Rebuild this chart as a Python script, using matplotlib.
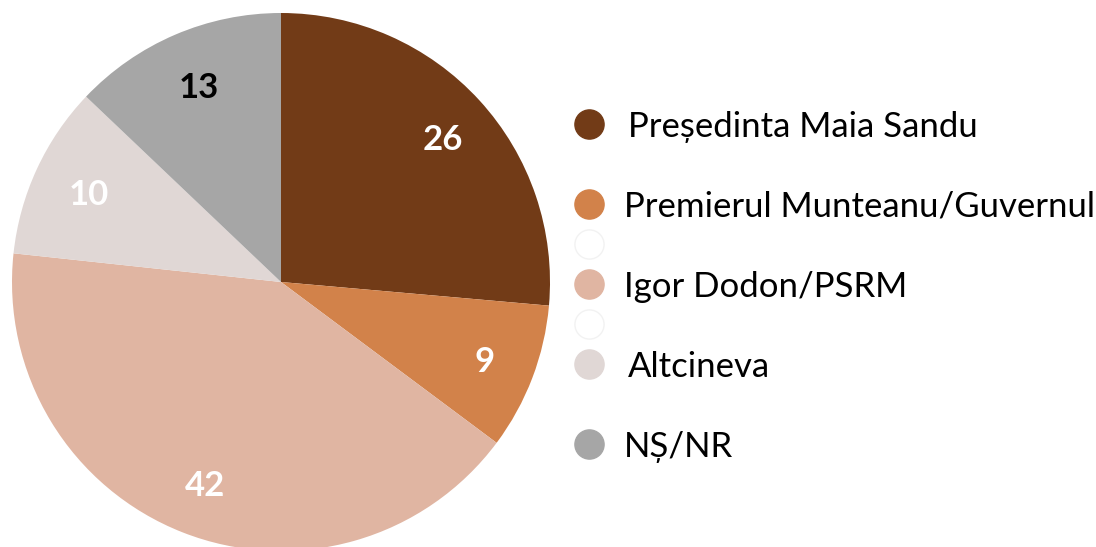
import matplotlib.pyplot as plt

plt.rcParams['font.family'] = ['Lato', 'DejaVu Sans']

# pie data (clockwise from 12 o'clock); shares read from the wedge edges,
# labels as printed on the chart
shares = [26.4, 8.8, 41.5, 10.4, 12.9]
value_labels = ['26', '9', '42', '10', '13']
colors = ['#723B17', '#D2824A', '#E0B5A2', '#E0D7D5', '#A6A6A6']
label_colors = ['white', 'white', 'white', 'white', 'black']

# legend rows as shown (None = empty spacer row)
legend_labels = ['Președinta Maia Sandu', None, 'Premierul Munteanu/Guvernul', '',
                 'Igor Dodon/PSRM', '', 'Altcineva', None, 'NȘ/NR']
legend_colors = ['#723B17', None, '#D2824A', 'white',
                 '#E0B5A2', 'white', '#E0D7D5', None, '#A6A6A6']
legend_text_x = [628, 0, 624, 0, 624, 0, 628, 0, 624]

W, H = 1096, 547
fig = plt.figure(figsize=(W / 100, H / 100), dpi=100)

# pie axes: centre (281, 282) px, radius 269 px
cx, cy, r = 281, 282, 269
ax = fig.add_axes([(cx - r) / W, (H - cy - r) / H, 2 * r / W, 2 * r / H])
wedges, texts = ax.pie(shares, colors=colors, startangle=90, counterclock=False,
                       radius=1, labels=value_labels, labeldistance=0.8,
                       textprops=dict(fontsize=25, fontweight='bold', ha='center', va='center'))
for t, c in zip(texts, label_colors):
    t.set_color(c)
    x, y = t.get_position()
    t.set_position((x + 0.01, y - 0.014))  # nudge digits to sit like the original
ax.set_xlim(-1, 1)
ax.set_ylim(-1, 1)
ax.set_aspect('equal')
ax.axis('off')

# legend drawn on a pixel-coordinate overlay
lg = fig.add_axes([0, 0, 1, 1])
lg.set_xlim(0, W)
lg.set_ylim(H, 0)
lg.axis('off')
y0, step = 124, 40
for i, (lab, col, tx) in enumerate(zip(legend_labels, legend_colors, legend_text_x)):
    y = y0 + i * step
    if col is None:
        continue
    edge = '#F2F2F2' if col == 'white' else col
    lg.plot([589], [y], marker='o', markersize=21, markerfacecolor=col,
            markeredgecolor=edge, markeredgewidth=1)
    if lab:
        lg.text(tx, y + 3, lab, fontsize=25, va='center', ha='left', color='black')

fig.savefig('out.png', dpi=100)
